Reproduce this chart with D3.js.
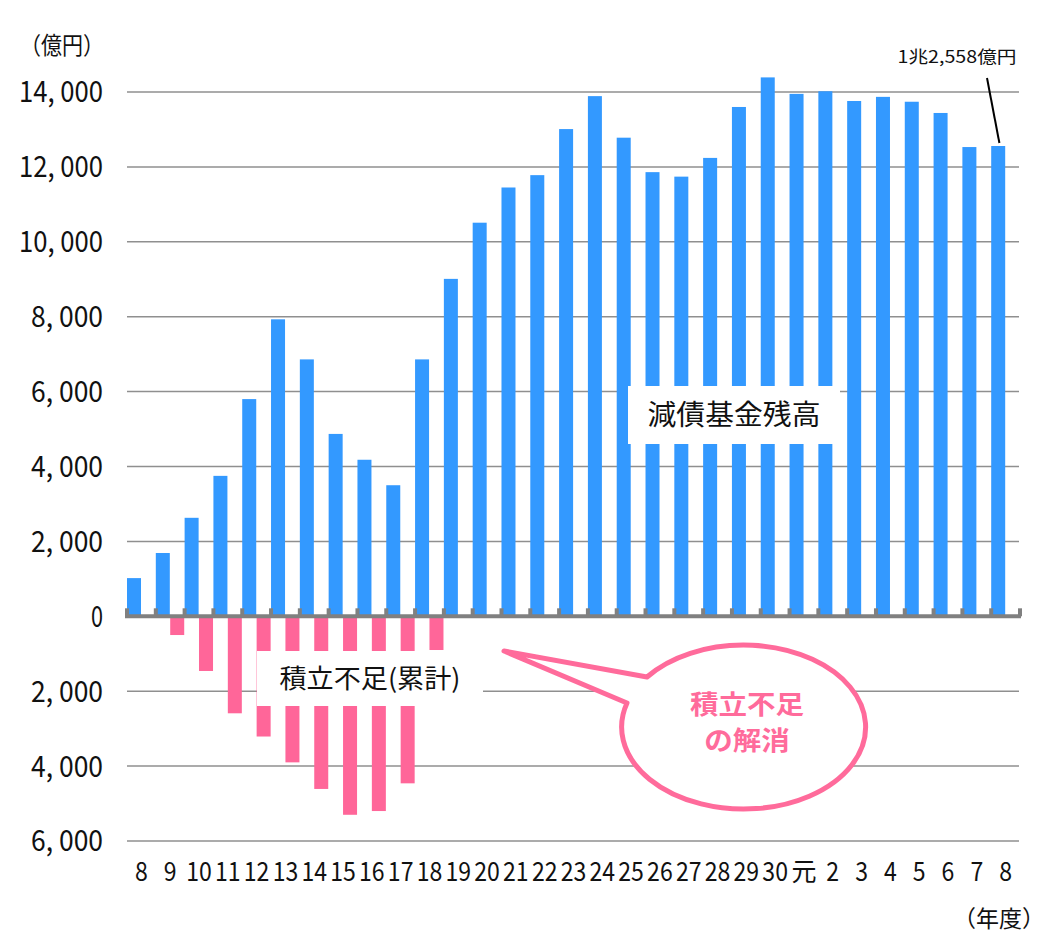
<!DOCTYPE html>
<html>
<head>
<meta charset="utf-8">
<script src="https://cdn.jsdelivr.net/npm/d3@7"></script>
<style>
  body { margin: 0; background: #fff; }
  text { font-family: "Noto Sans CJK JP", "Noto Sans", sans-serif; }
</style>
</head>
<body>
<script>
// 年度 (平成8〜30, 令和元〜8)
const years = ["8", "9", "10", "11", "12", "13", "14", "15", "16", "17", "18", "19", "20",
  "21", "22", "23", "24", "25", "26", "27", "28", "29", "30", "元", "2", "3", "4", "5", "6", "7", "8"];

// 減債基金残高 (億円)
const fundBalance = [1020, 1690, 2630, 3750, 5800, 7930, 6860, 4870, 4180, 3500, 6860, 9010,
  10510, 11450, 11780, 13010, 13890, 12780, 11860, 11740, 12240, 13600, 14390,
  13950, 14020, 13760, 13870, 13740, 13440, 12530, 12558];

// 積立不足 累計 (億円)
const shortfall = [0, 500, 1460, 2590, 3210, 3900, 4610, 5300, 5200, 4460, 900, 0,
  0, 0, 0, 0, 0, 0, 0, 0, 0, 0, 0,
  0, 0, 0, 0, 0, 0, 0, 0];

const yTicks = [14000, 12000, 10000, 8000, 6000, 4000, 2000, 0, -2000, -4000, -6000];

const width = 1051;
const height = 939;
const blue = "#3399ff";
const pink = "#ff6699";

const svg = d3.select("body").append("svg")
  .attr("width", width)
  .attr("height", height);

const x = d3.scaleBand()
  .domain(d3.range(years.length))
  .range([127, 1020]);

const sub = d3.scaleBand()
  .domain(["fund", "short"])
  .range([0, x.bandwidth()]);

const y = d3.scaleLinear()
  .domain([-6000, 14000])
  .range([841, 92]);

const fmt = d3.format(",");

// grid
svg.append("g")
  .selectAll("line")
  .data(yTicks.filter((d) => d !== 0))
  .enter().append("line")
  .attr("x1", 127)
  .attr("x2", 1019)
  .attr("y1", (d) => y(d))
  .attr("y2", (d) => y(d))
  .attr("stroke", "#8f8f8f")
  .attr("stroke-width", 1.5);

// y labels
svg.append("g")
  .selectAll("text")
  .data(yTicks)
  .enter().append("text")
  .attr("x", 103)
  .attr("y", (d) => y(d))
  .attr("dy", "0.36em")
  .attr("text-anchor", "end")
  .style("font-size", "29px")
  .attr("fill", "#111")
  .each(function(d) {
    const s = fmt(Math.abs(d)).replace(",", ", ");
    d3.select(this).text(s)
      .attr("textLength", s.length * 12)
      .attr("lengthAdjust", "spacingAndGlyphs");
  });

// bars
svg.append("g")
  .selectAll("rect")
  .data(fundBalance)
  .enter().append("rect")
  .attr("x", (d, i) => x(i) + sub("fund"))
  .attr("y", (d) => y(d))
  .attr("width", sub.bandwidth() - 0.4)
  .attr("height", (d) => y(0) - y(d))
  .attr("fill", blue);

svg.append("g")
  .selectAll("rect")
  .data(shortfall)
  .enter().append("rect")
  .attr("x", (d, i) => x(i) + sub("short"))
  .attr("y", y(0))
  .attr("width", sub.bandwidth() - 0.4)
  .attr("height", (d) => y(-d) - y(0))
  .attr("fill", pink);

// zero axis with ticks
svg.append("line")
  .attr("x1", 125)
  .attr("x2", 1021)
  .attr("y1", y(0))
  .attr("y2", y(0))
  .attr("stroke", "#808080")
  .attr("stroke-width", 4);

svg.append("g")
  .selectAll("rect")
  .data(d3.range(years.length + 1))
  .enter().append("rect")
  .attr("x", (i) => (i < years.length ? x(i) : 1020) - 2)
  .attr("y", y(0) - 8)
  .attr("width", 4)
  .attr("height", 8)
  .attr("fill", "#808080");

// x labels
svg.append("g")
  .selectAll("text")
  .data(years)
  .enter().append("text")
  .attr("x", (d, i) => x(i) + x.bandwidth() / 2)
  .attr("y", 872)
  .attr("dy", "0.36em")
  .attr("text-anchor", "middle")
  .style("font-size", "26px")
  .attr("fill", "#111")
  .attr("textLength", (d) => d === "元" ? 25 : d.length * 12.8)
  .attr("lengthAdjust", "spacingAndGlyphs")
  .text((d) => d);

// units
svg.append("text")
  .attr("x", 20)
  .attr("y", 45)
  .attr("dy", "0.36em")
  .style("font-size", "24px")
  .attr("fill", "#111")
  .attr("textLength", 84)
  .attr("lengthAdjust", "spacingAndGlyphs")
  .text("（億円）");

svg.append("text")
  .attr("x", 1045)
  .attr("y", 919)
  .attr("dy", "0.36em")
  .attr("text-anchor", "end")
  .style("font-size", "23px")
  .attr("fill", "#111")
  .text("（年度）");

// last value note
const last = years.length - 1;
svg.append("line")
  .attr("x1", 987)
  .attr("y1", 78)
  .attr("x2", x(last) + sub("fund") + sub.bandwidth() / 2 + 1)
  .attr("y2", y(fundBalance[last]) - 3)
  .attr("stroke", "#000")
  .attr("stroke-width", 2);

svg.append("text")
  .attr("x", 957)
  .attr("y", 57)
  .attr("dy", "0.36em")
  .attr("text-anchor", "middle")
  .style("font-size", "17px")
  .attr("fill", "#111")
  .attr("textLength", 119)
  .attr("lengthAdjust", "spacingAndGlyphs")
  .text("1兆2,558億円");

// series labels on white boxes
function boxLabel(x0, y0, w, h, label, size, len) {
  svg.append("rect")
    .attr("x", x0)
    .attr("y", y0)
    .attr("width", w)
    .attr("height", h)
    .attr("fill", "#fff");
  svg.append("text")
    .attr("x", x0 + w / 2)
    .attr("y", y0 + h / 2)
    .attr("dy", "0.36em")
    .attr("text-anchor", "middle")
    .style("font-size", size + "px")
    .attr("fill", "#111")
    .attr("textLength", len)
    .attr("lengthAdjust", "spacingAndGlyphs")
    .text(label);
}

boxLabel(628, 386, 212, 58, "減債基金残高", 28, 173);
boxLabel(257, 651, 226, 55, "積立不足(累計)", 26, 181);

// callout
const cx = 747, cy = 723, rx = 122, ry = 82;
svg.append("path")
  .attr("d", `M627,703 L504,651 L647,677 A${rx},${ry} 0 1 1 627,703 Z`)
  .attr("fill", "#fff")
  .attr("stroke", "#ff6b9b")
  .attr("stroke-width", 5)
  .attr("stroke-linejoin", "round");

svg.append("g")
  .selectAll("text")
  .data(["積立不足", "の解消"])
  .enter().append("text")
  .attr("x", cx)
  .attr("y", (d, i) => 705 + i * 36)
  .attr("dy", "0.36em")
  .attr("text-anchor", "middle")
  .style("font-size", "26px")
  .style("font-weight", "bold")
  .attr("fill", "#ff6b9b")
  .attr("textLength", (d) => d.length * 28.5)
  .attr("lengthAdjust", "spacingAndGlyphs")
  .text((d) => d);
</script>
</body>
</html>
